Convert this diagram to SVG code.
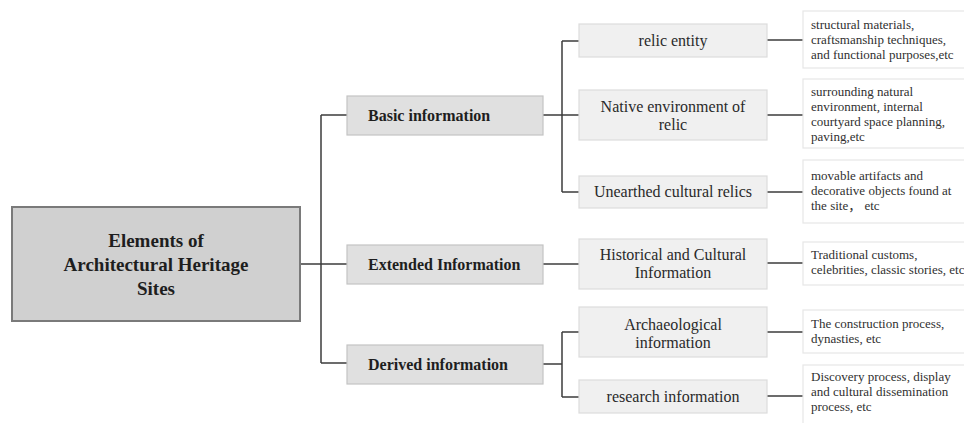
<svg xmlns="http://www.w3.org/2000/svg" width="964" height="423" viewBox="0 0 964 423">
<style>
.root{fill:#d0d0d0;stroke:#7a7a7a;stroke-width:2}
.l1{fill:#e0e0e0;stroke:#c4c4c4;stroke-width:1.2}
.l2{fill:#f0f0f0;stroke:#dcdcdc;stroke-width:1.2}
.l3{fill:#ffffff;stroke:#e6e6e6;stroke-width:1.2}
.tr{font-family:"Liberation Serif","Times New Roman",serif;font-weight:bold;font-size:19px;fill:#1e1e1e;text-anchor:middle}
.t1{font-family:"Liberation Serif","Times New Roman",serif;font-weight:bold;font-size:16px;fill:#1e1e1e}
.t2{font-family:"Liberation Serif","Times New Roman",serif;font-size:16px;fill:#2a2a2a;text-anchor:middle}
.t3{font-family:"Liberation Serif","Times New Roman","Noto Sans CJK SC",serif;font-size:13px;fill:#303030}
.c{fill:none;stroke:#3c3c3c;stroke-width:1.5}
</style>
<g id="connectors">
<path class="c" d="M300,264 H321 M321,115 V363 M321,115 H347 M321,264 H347 M321,363 H347"/>
<path class="c" d="M543,115 H562 M562,41 V192 M562,41 H579 M562,115 H579 M562,192 H579"/>
<path class="c" d="M543,264 H579"/>
<path class="c" d="M543,364 H562 M562,332 V397 M562,332 H579 M562,397 H579"/>
<path class="c" d="M767,40 H803 M767,115 H803 M767,192 H803 M767,263 H803 M767,332 H803 M767,396 H803"/>
</g>
<g id="root"><rect class="root" x="12" y="207" width="288" height="114"/>
<text class="tr" x="156" y="247">Elements of</text>
<text class="tr" x="156" y="271">Architectural Heritage</text>
<text class="tr" x="156" y="295">Sites</text></g>
<g id="basic"><rect class="l1" x="347" y="96" width="196" height="39"/><text class="t1" x="368" y="121">Basic information</text></g>
<g id="extended"><rect class="l1" x="347" y="245" width="196" height="39"/><text class="t1" x="368" y="270">Extended Information</text></g>
<g id="derived"><rect class="l1" x="347" y="345" width="196" height="39"/><text class="t1" x="368" y="370">Derived information</text></g>
<g id="relic-entity"><rect class="l2" x="579" y="24" width="188" height="33"/><text class="t2" x="673" y="46">relic entity</text></g>
<g id="native-env"><rect class="l2" x="579" y="90" width="188" height="50"/><text class="t2" x="673" y="112">Native environment of</text><text class="t2" x="673" y="130">relic</text></g>
<g id="unearthed"><rect class="l2" x="579" y="176" width="188" height="32"/><text class="t2" x="673" y="197">Unearthed cultural relics</text></g>
<g id="historical"><rect class="l2" x="579" y="239" width="188" height="50"/><text class="t2" x="673" y="260">Historical and Cultural</text><text class="t2" x="673" y="278">Information</text></g>
<g id="archaeological"><rect class="l2" x="579" y="307" width="188" height="50"/><text class="t2" x="673" y="330">Archaeological</text><text class="t2" x="673" y="348">information</text></g>
<g id="research"><rect class="l2" x="579" y="380" width="188" height="33"/><text class="t2" x="673" y="402">research information</text></g>
<g id="d1"><rect class="l3" x="803" y="11" width="170" height="57"/><text class="t3" x="811" y="29">structural materials,</text><text class="t3" x="811" y="44">craftsmanship techniques,</text><text class="t3" x="811" y="59">and functional purposes,etc</text></g>
<g id="d2"><rect class="l3" x="803" y="79" width="170" height="69"/><text class="t3" x="811" y="96">surrounding natural</text><text class="t3" x="811" y="111">environment, internal</text><text class="t3" x="811" y="126">courtyard space planning,</text><text class="t3" x="811" y="141">paving,etc</text></g>
<g id="d3"><rect class="l3" x="803" y="160" width="170" height="63"/><text class="t3" x="811" y="180">movable artifacts and</text><text class="t3" x="811" y="195">decorative objects found at</text><text class="t3" x="811" y="210">the site，&#160;etc</text></g>
<g id="d4"><rect class="l3" x="803" y="242" width="170" height="43"/><text class="t3" x="811" y="259">Traditional customs,</text><text class="t3" x="811" y="274">celebrities, classic stories, etc</text></g>
<g id="d5"><rect class="l3" x="803" y="310" width="170" height="43"/><text class="t3" x="811" y="328">The construction process,</text><text class="t3" x="811" y="343">dynasties, etc</text></g>
<g id="d6"><rect class="l3" x="803" y="365" width="170" height="62"/><text class="t3" x="811" y="381">Discovery process, display</text><text class="t3" x="811" y="396">and cultural dissemination</text><text class="t3" x="811" y="411">process, etc</text></g>
</svg>
